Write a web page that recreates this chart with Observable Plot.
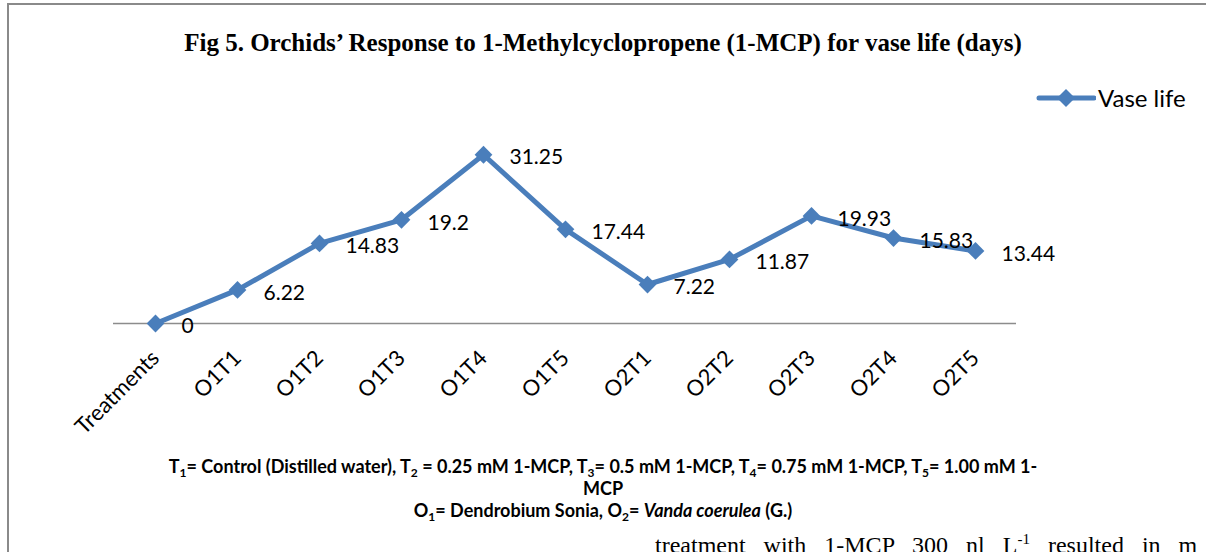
<!DOCTYPE html>
<html>
<head>
<meta charset="utf-8">
<script src="https://cdn.jsdelivr.net/npm/d3@7"></script>
<script src="https://cdn.jsdelivr.net/npm/@observablehq/plot@0.6"></script>
<style>
  html, body { margin: 0; padding: 0; background: #fff; }
  #page { position: relative; width: 1206px; height: 552px; overflow: hidden; background: #fff; }
  #frame { position: absolute; left: 7px; top: 3px; width: 1300px; height: 700px; border: 2px solid #8a8a8a; box-sizing: border-box; }
  #title { position: absolute; left: 0; width: 1206px; top: 28px; text-align: center; font-family: "Liberation Serif", serif; font-weight: bold; font-size: 25px; line-height: 30px; color: #000; }
  #chart { position: absolute; left: 0; top: 0; }
  #legend { position: absolute; left: 1036px; top: 83px; display: flex; align-items: center; font-family: Lato, sans-serif; font-size: 24px; color: #000; }
  #footer { position: absolute; left: 0; width: 1206px; top: 455px; text-align: center; font-family: Lato, sans-serif; font-weight: bold; font-size: 18px; line-height: 22px; color: #000; }
  #footer sub { font-size: 12px; vertical-align: -4px; line-height: 0; }
  #bodytext { position: absolute; left: 655px; top: 531px; white-space: nowrap; font-family: "Liberation Serif", serif; font-size: 24px; line-height: 28px; word-spacing: 12px; color: #000; }
  #bodytext sup { font-size: 15px; vertical-align: 9px; line-height: 0; }
</style>
</head>
<body>
<div id="page">
  <div id="frame"></div>
  <div id="title">Fig 5. Orchids’ Response to 1-Methylcyclopropene (1-MCP) for vase life (days)</div>
  <div id="chart"></div>
  <div id="legend">
    <svg width="60" height="20"><line x1="3" y1="10" x2="58" y2="10" stroke="#4a7ebb" stroke-width="5" stroke-linecap="round"/><path d="M30,1 L39,10 L30,19 L21,10 Z" fill="#4a7ebb"/></svg>
    <span style="margin-left:2px">Vase life</span>
  </div>
  <div id="footer">
    T<sub>1</sub>= Control (Distilled water), T<sub>2</sub> = 0.25 mM 1-MCP, T<sub>3</sub>= 0.5 mM 1-MCP, T<sub>4</sub>= 0.75 mM 1-MCP, T<sub>5</sub>= 1.00 mM 1-<br>
    MCP<br>
    O<sub>1</sub>= Dendrobium Sonia, O<sub>2</sub>= <i>Vanda coerulea</i> (G.)
  </div>
  <div id="bodytext">treatment with 1-MCP 300 nl L<sup>-1</sup> resulted in m</div>
</div>
<script>
const treatments = ["Treatments", "O1T1", "O1T2", "O1T3", "O1T4", "O1T5", "O2T1", "O2T2", "O2T3", "O2T4", "O2T5"];
const vaseLife = [0, 6.22, 14.83, 19.2, 31.25, 17.44, 7.22, 11.87, 19.93, 15.83, 13.44];
const valueLabels = ["0", "6.22", "14.83", "19.2", "31.25", "17.44", "7.22", "11.87", "19.93", "15.83", "13.44"];

const data = treatments.map((t, i) => ({t, v: vaseLife[i], label: valueLabels[i]}));
const blue = "#4a7ebb";

const chart = Plot.plot({
  width: 1206,
  height: 460,
  marginLeft: 113,
  marginRight: 190,
  marginTop: 134,
  marginBottom: 137,
  style: {background: "transparent", fontFamily: "Lato, sans-serif"},
  x: {type: "point", domain: treatments, padding: 0.5, label: null},
  y: {domain: [0, 35], axis: null},
  marks: [
    Plot.ruleY([0], {stroke: "#8c8c8c", strokeWidth: 1.5}),
    Plot.axisX({tickSize: 0, tickRotate: -45, fontSize: 22, tickPadding: 0, dx: 0, dy: 31, fill: "#000", label: null}),
    Plot.line(data, {x: "t", y: "v", stroke: blue, strokeWidth: 5, strokeLinejoin: "round"}),
    Plot.dot(data, {x: "t", y: "v", symbol: "diamond2", r: 8, fill: blue, stroke: null}),
    Plot.text(data, {x: "t", y: "v", text: "label", textAnchor: "start", dx: 26, dy: 3, fontSize: 21, fill: "#000"})
  ]
});
document.getElementById("chart").appendChild(chart);
</script>
</body>
</html>
